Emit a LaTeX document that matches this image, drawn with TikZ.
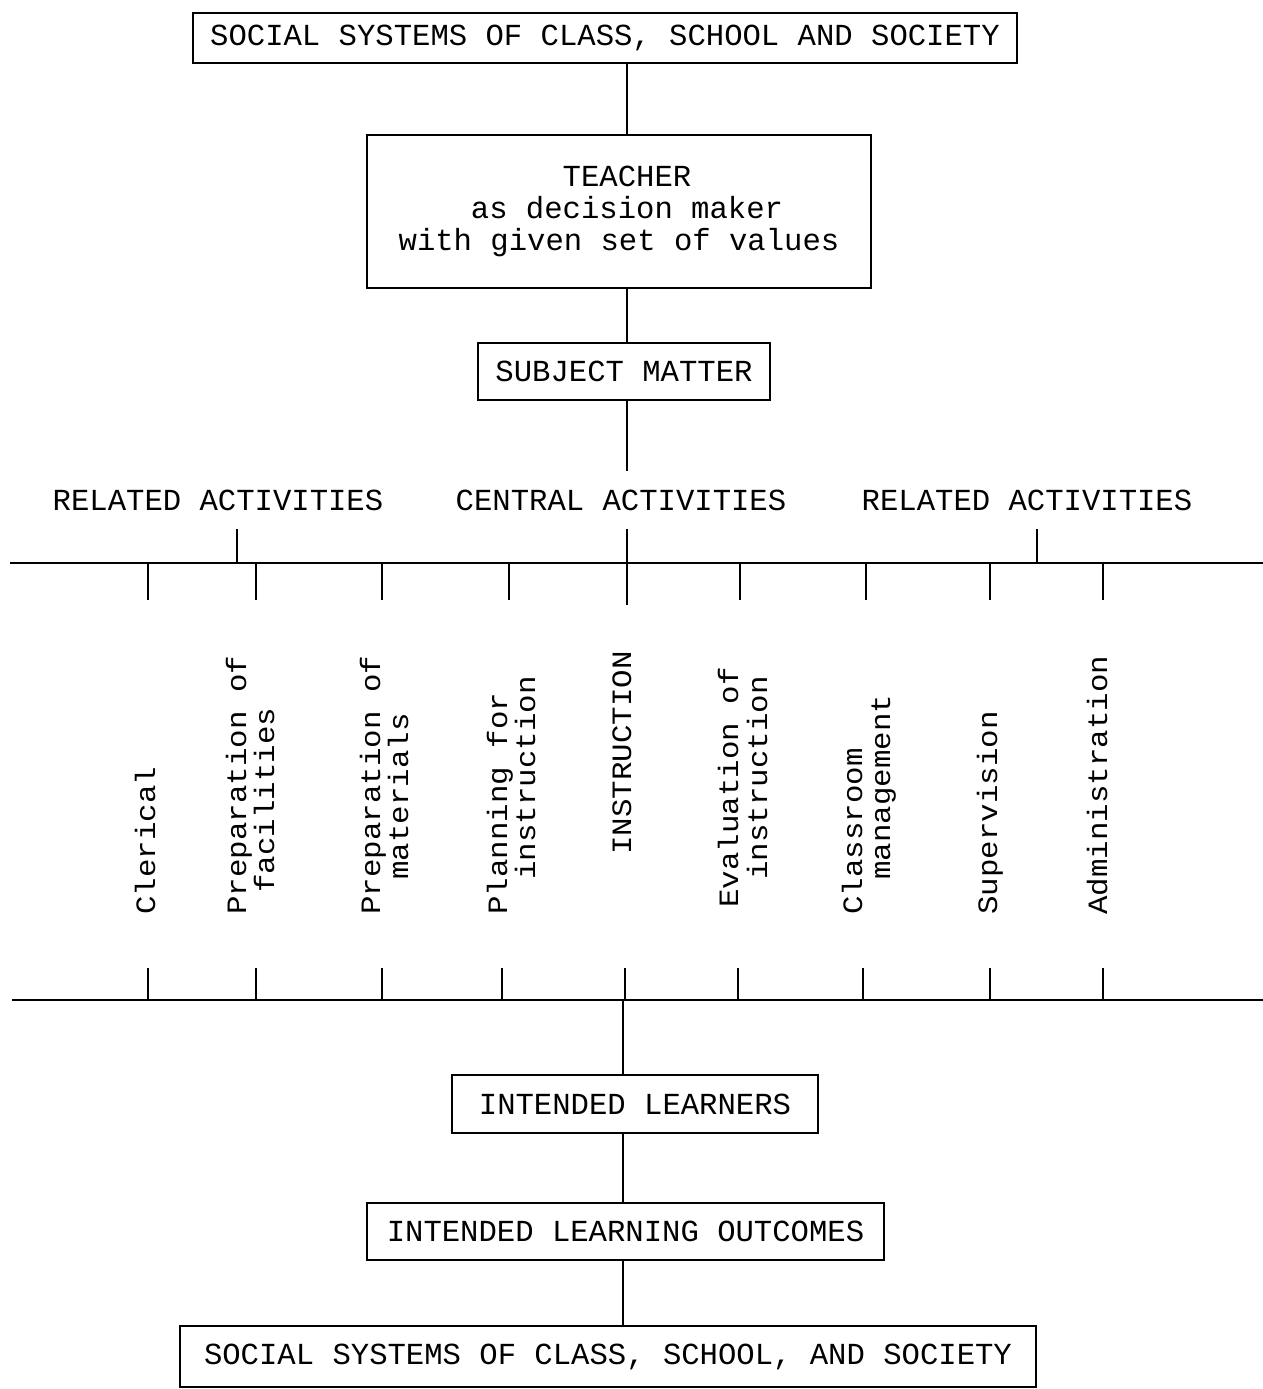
\documentclass[tikz,border=0pt]{standalone}
\usepackage{fontspec}
\setmainfont{Liberation Mono}
\newfontfamily\lblfont[FakeStretch=1.1]{Liberation Mono}
\begin{document}
\begin{tikzpicture}[x=0.5pt,y=-0.5pt,
  every node/.style={font=\fontsize{15.3pt}{16pt}\selectfont},
  box/.style={draw,line width=1.1pt,inner sep=0pt,align=center},
  head/.style={inner xsep=2pt,inner ysep=9pt},
  lbl/.style={rotate=90,anchor=base west,inner sep=0pt,
    font=\lblfont\fontsize{14pt}{16pt}\selectfont},
  ln/.style={line width=1pt},
  hln/.style={line width=1.2pt}]
\useasboundingbox (0,0) rectangle (1263,1389);

% spine coordinates
\coordinate (spine) at (627,0);
\coordinate (lspine) at (623,0);
\coordinate (relLx) at (237,0);
\coordinate (relRx) at (1037,0);
\coordinate (hl1) at (10,563);
\coordinate (hr1) at (1263,563);
\coordinate (hl2) at (12,1000);
\coordinate (hr2) at (1263,1000);

% boxes
\node[box,minimum width=412pt,minimum height=25pt] (top) at (605,38)
  {SOCIAL SYSTEMS OF CLASS, SCHOOL AND SOCIETY};
\node[box,minimum width=252pt,minimum height=76.5pt] (teacher) at (619,211.5)
  {\hspace*{8pt}TEACHER\\\hspace*{8pt}as decision maker\\with given set of values};
\node[box,minimum width=146pt,minimum height=28.5pt] (subj) at (624,371.5)
  {SUBJECT MATTER};
\node[box,minimum width=183pt,minimum height=29pt] (learners) at (635,1104)
  {INTENDED LEARNERS};
\node[box,minimum width=258.5pt,minimum height=28.5pt] (outcomes) at (625.5,1231.5)
  {INTENDED LEARNING OUTCOMES};
\node[box,minimum width=428pt,minimum height=30.5pt] (bottom) at (608,1356.5)
  {SOCIAL SYSTEMS OF CLASS, SCHOOL, AND SOCIETY};

% headings
\node[head] (relL) at (218,500) {RELATED ACTIVITIES};
\node[head] (central) at (621,500) {CENTRAL ACTIVITIES};
\node[head] (relR) at (1027,500) {RELATED ACTIVITIES};

% connectors top part
\draw[ln] (top.south -| spine) -- (teacher.north -| spine);
\draw[ln] (teacher.south -| spine) -- (subj.north -| spine);
\draw[ln] (subj.south -| spine) -- (central.north -| spine);
\draw[ln] (central.south -| spine) -- (hl1 -| spine);
\draw[ln] (relL.south -| relLx) -- (hl1 -| relLx);
\draw[ln] (relR.south -| relRx) -- (hl1 -| relRx);

% upper comb
\draw[hln] (hl1) -- (hr1);
\foreach \x in {148,256,382,509,740,866,990,1103}
  \draw[ln] (\x,563) -- (\x,600);
\draw[ln] (627,563) -- (627,605);

% activity labels (baseline positions)
\node[lbl] (l1) at (155,915) {Clerical};
\node[lbl] (l2a) at (246,915) {Preparation of};
\node[lbl] (l2b) at (274,893) {facilities};
\node[lbl] (l3a) at (380,915) {Preparation of};
\node[lbl] (l3b) at (408,880) {materials};
\node[lbl] (l4a) at (507,915) {Planning for};
\node[lbl] (l4b) at (535,880) {instruction};
\node[lbl] (l5) at (631,855) {INSTRUCTION};
\node[lbl] (l6a) at (738,908) {Evaluation of};
\node[lbl] (l6b) at (767,880) {instruction};
\node[lbl] (l7a) at (862,915) {Classroom};
\node[lbl] (l7b) at (890,880) {management};
\node[lbl] (l8) at (997,915) {Supervision};
\node[lbl] (l9) at (1107,915) {Administration};

% lower comb
\draw[hln] (hl2) -- (hr2);
\foreach \x in {148,256,382,502,625,738,863,990,1103}
  \draw[ln] (\x,968) -- (\x,1000);

% connectors lower part
\draw[ln] (hl2 -| lspine) -- (learners.north -| lspine);
\draw[ln] (learners.south -| lspine) -- (outcomes.north -| lspine);
\draw[ln] (outcomes.south -| lspine) -- (bottom.north -| lspine);
\end{tikzpicture}
\end{document}
